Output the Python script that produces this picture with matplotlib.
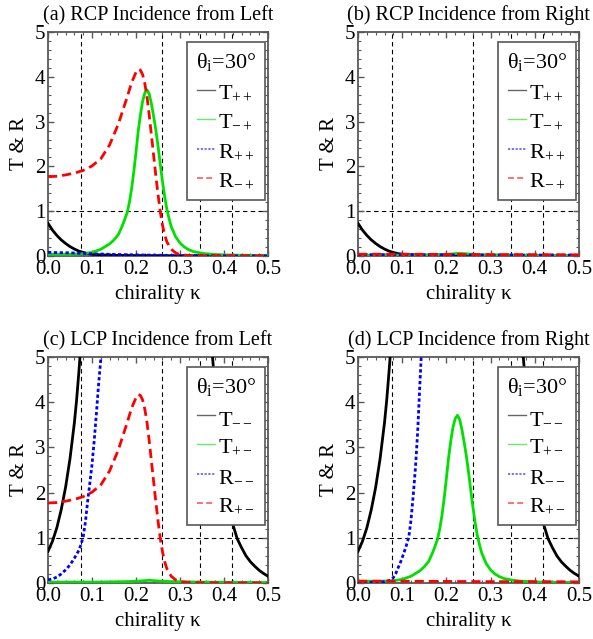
import numpy as np
import matplotlib
matplotlib.use('Agg')
import matplotlib.pyplot as plt
from matplotlib.lines import Line2D

plt.rcParams['font.family'] = ['Liberation Serif', 'DejaVu Serif']
plt.rcParams['mathtext.fontset'] = 'custom'
plt.rcParams['mathtext.rm'] = 'Liberation Serif'
plt.rcParams['mathtext.it'] = 'Liberation Serif:italic'
plt.rcParams['mathtext.bf'] = 'Liberation Serif:bold'

# ---- values ----
# dashed guide lines
grid_kappa = [0.076, 0.260, 0.346, 0.419]
grid_level = 1.0

# black, T++ in (a) and (b)
k_Tpp = [0.0, 0.01, 0.02, 0.03, 0.04, 0.05, 0.06, 0.07, 0.08, 0.09, 0.10, 0.12, 0.15, 0.20, 0.30, 0.40, 0.50]
Tpp = [0.73, 0.58, 0.46, 0.36, 0.28, 0.21, 0.155, 0.11, 0.08, 0.055, 0.04, 0.025, 0.015, 0.01, 0.005, 0.004, 0.003]

# green, the big transmission peak: T-+ in (a), T+- in (d)
k_Tpk = [0.0, 0.05, 0.08, 0.10, 0.12, 0.14, 0.15, 0.16, 0.17, 0.18, 0.185, 0.19, 0.195, 0.20, 0.205,
         0.21, 0.215, 0.22, 0.225, 0.23, 0.235, 0.24, 0.245, 0.25, 0.255, 0.26, 0.265, 0.27, 0.275,
         0.28, 0.29, 0.30, 0.31, 0.32, 0.33, 0.35, 0.37, 0.40, 0.45, 0.50]
Tpk = [0.04, 0.04, 0.05, 0.08, 0.15, 0.27, 0.36, 0.48, 0.70, 0.97, 1.2, 1.5, 1.88, 2.32, 2.78,
       3.15, 3.45, 3.64, 3.71, 3.62, 3.40, 3.12, 2.82, 2.46, 2.06, 1.68, 1.34, 1.05, 0.84,
       0.66, 0.43, 0.29, 0.2, 0.14, 0.1, 0.06, 0.04, 0.025, 0.015, 0.01]

# red, the big reflection peak: R-+ in (a), R+- in (c)
k_Rpk = [0.0, 0.02, 0.04, 0.06, 0.08, 0.10, 0.12, 0.14, 0.16, 0.17, 0.18, 0.19, 0.20, 0.205, 0.21,
         0.215, 0.22, 0.225, 0.23, 0.235, 0.24, 0.245, 0.25, 0.255, 0.26, 0.265, 0.27, 0.28, 0.29,
         0.30, 0.32, 0.35, 0.40, 0.45, 0.50]
Rpk = [1.77, 1.78, 1.81, 1.85, 1.91, 2.01, 2.17, 2.48, 2.95, 3.25, 3.55, 3.87, 4.10, 4.17, 4.15,
       4.05, 3.85, 3.55, 3.15, 2.7, 2.25, 1.8, 1.38, 1.0, 0.7, 0.48, 0.32, 0.15, 0.07,
       0.03, 0.01, 0.006, 0.005, 0.004, 0.003]

# blue, R++ in (a)
k_Rpp = [0.0, 0.05, 0.10, 0.15, 0.20, 0.30, 0.40, 0.50]
Rpp = [0.08, 0.07, 0.05, 0.035, 0.025, 0.01, 0.005, 0.003]

# near-zero curves
k_small = [0.0, 0.10, 0.18, 0.21, 0.23, 0.25, 0.28, 0.35, 0.50]
Tsmall = [0.02, 0.02, 0.03, 0.045, 0.06, 0.045, 0.03, 0.02, 0.01]
k_flat = [0.0, 0.10, 0.20, 0.30, 0.40, 0.50]
Rflat_blue = [0.03, 0.03, 0.025, 0.02, 0.02, 0.02]
Rflat_red = [0.04, 0.04, 0.035, 0.03, 0.03, 0.025]

# black, T-- in (c) and (d): two branches that leave the top of the frame
k_Tmm_lo = [0.0, 0.01, 0.02, 0.03, 0.04, 0.05, 0.06, 0.065, 0.07, 0.0735]
Tmm_lo = [0.70, 0.92, 1.22, 1.62, 2.12, 2.75, 3.55, 4.05, 4.65, 5.1]
k_Tmm_hi = [0.373, 0.38, 0.39, 0.40, 0.41, 0.42, 0.43, 0.44, 0.45, 0.46, 0.47, 0.48, 0.49, 0.50]
Tmm_hi = [5.1, 4.3, 3.3, 2.5, 1.85, 1.3, 0.98, 0.78, 0.6, 0.47, 0.37, 0.28, 0.21, 0.15]

# blue, R-- in (c)
k_Rmm_c = [0.0, 0.01, 0.02, 0.03, 0.04, 0.05, 0.06, 0.07, 0.075, 0.08, 0.085, 0.09, 0.095,
           0.10, 0.105, 0.11, 0.115, 0.12, 0.122]
Rmm_c = [0.07, 0.09, 0.13, 0.2, 0.29, 0.4, 0.55, 0.72, 0.85, 1.02, 1.35, 1.8, 2.2,
         2.62, 3.15, 3.75, 4.4, 4.95, 5.2]

# blue, R-- in (d)
k_Rmm_d = [0.0, 0.03, 0.05, 0.06, 0.07, 0.075, 0.08, 0.085, 0.09, 0.095, 0.10, 0.105, 0.11,
           0.115, 0.12, 0.125, 0.13, 0.135, 0.14, 0.1435]
Rmm_d = [0.02, 0.02, 0.02, 0.03, 0.05, 0.07, 0.12, 0.2, 0.32, 0.43, 0.56, 0.7, 0.85,
         1.02, 1.4, 1.95, 2.55, 3.35, 4.4, 5.1]

titles = ['(a) RCP Incidence from Left', '(b) RCP Incidence from Right',
          '(c) LCP Incidence from Left', '(d) LCP Incidence from Right']
labels_rcp = ['T$_{++}$', 'T$_{-+}$', 'R$_{++}$', 'R$_{-+}$']
labels_lcp = ['T$_{--}$', 'T$_{+-}$', 'R$_{--}$', 'R$_{+-}$']

# ---- styles ----
c_black, c_green, c_blue, c_red = 'black', '#00e000', '#0000ff', '#ff0000'
ls_solid = '-'
ls_dot = (0, (1.2, 0.9))
ls_dash = (0, (3.3, 1.8))
LW = 2.0
FS = 15

fig = plt.figure(figsize=(5.93, 6.39), dpi=100)
W, H = 593.0, 639.0
boxes = [(48, 32, 220, 224), (358, 32, 221, 224), (48, 357, 220, 226), (358, 357, 221, 226)]
axes = [fig.add_axes([x / W, 1 - (y + h) / H, w / W, h / H]) for x, y, w, h in boxes]

# per panel: (kappa, values, colour, linestyle)
panel_curves = [
    [(k_Tpp, Tpp, c_black, ls_solid), (k_Tpk, Tpk, c_green, ls_solid),
     (k_Rpp, Rpp, c_blue, ls_dot), (k_Rpk, Rpk, c_red, ls_dash)],
    [(k_Tpp, Tpp, c_black, ls_solid), (k_small, Tsmall, c_green, ls_solid),
     (k_flat, Rflat_blue, c_blue, ls_dot), (k_flat, Rflat_red, c_red, ls_dash)],
    [(k_Tmm_lo, Tmm_lo, c_black, ls_solid), (k_Tmm_hi, Tmm_hi, c_black, ls_solid),
     (k_small, Tsmall, c_green, ls_solid),
     (k_Rmm_c, Rmm_c, c_blue, ls_dot), (k_Rpk, Rpk, c_red, ls_dash)],
    [(k_Tmm_lo, Tmm_lo, c_black, ls_solid), (k_Tmm_hi, Tmm_hi, c_black, ls_solid),
     (k_Tpk, Tpk, c_green, ls_solid),
     (k_Rmm_d, Rmm_d, c_blue, ls_dot), (k_flat, Rflat_red, c_red, ls_dash)],
]

frame_col = '#585858'
for i, ax in enumerate(axes):
    for g in grid_kappa:
        ax.axvline(g, color='black', lw=0.8, ls=(0, (4, 3)), zorder=1)
    ax.axhline(grid_level, color='black', lw=0.8, ls=(0, (4, 3)), zorder=1)

    for k, v, col, ls in panel_curves[i]:
        ax.plot(k, v, color=col, ls=ls, lw=LW, zorder=3)

    ax.set_xlim(0, 0.5)
    ax.set_ylim(0, 5)
    ax.set_xticks(np.arange(0, 0.51, 0.1))
    ax.set_xticklabels(['%.1f' % t for t in np.arange(0, 0.51, 0.1)])
    ax.set_xticks(np.arange(0, 0.501, 0.02), minor=True)
    ax.set_yticks(range(6))
    ax.set_yticks(np.arange(0, 5.01, 0.2), minor=True)
    ax.tick_params(which='both', direction='in', top=True, right=True,
                   color=frame_col, labelsize=FS)
    ax.tick_params(which='major', length=4, width=1.0, pad=2)
    ax.tick_params(which='minor', length=2, width=0.8)
    ax.tick_params(axis='x', which='major', pad=3)
    for s in ax.spines.values():
        s.set_color(frame_col)
        s.set_linewidth(1.3)

    ax.set_title(titles[i], fontsize=FS - 0.5, pad=8.5)
    ax.set_xlabel('chirality κ', fontsize=FS, labelpad=4)
    ax.set_ylabel('T & R', fontsize=FS, labelpad=4)

    labels = labels_rcp if i < 2 else labels_lcp
    handles = [Line2D([], [], color=c_black, ls=ls_solid, lw=1.0, alpha=0.6),
               Line2D([], [], color=c_green, ls=ls_solid, lw=1.0, alpha=0.6),
               Line2D([], [], color=c_blue, ls=ls_dot, lw=1.3, alpha=0.6),
               Line2D([], [], color=c_red, ls=ls_dash, lw=1.3, alpha=0.6)]
    leg = ax.legend(handles, labels, title='θ$_\\mathrm{i}$=30°', loc='upper right',
                    bbox_to_anchor=(0.986, 0.955), borderaxespad=0, fancybox=False,
                    edgecolor=frame_col, framealpha=1, fontsize=FS + 1, title_fontsize=FS + 1,
                    handlelength=0.8, handletextpad=0.15, labelspacing=0.4, borderpad=0.4)
    leg.get_frame().set_linewidth(1.2)
    leg.set_zorder(5)

fig.savefig('out.png', dpi=100)
